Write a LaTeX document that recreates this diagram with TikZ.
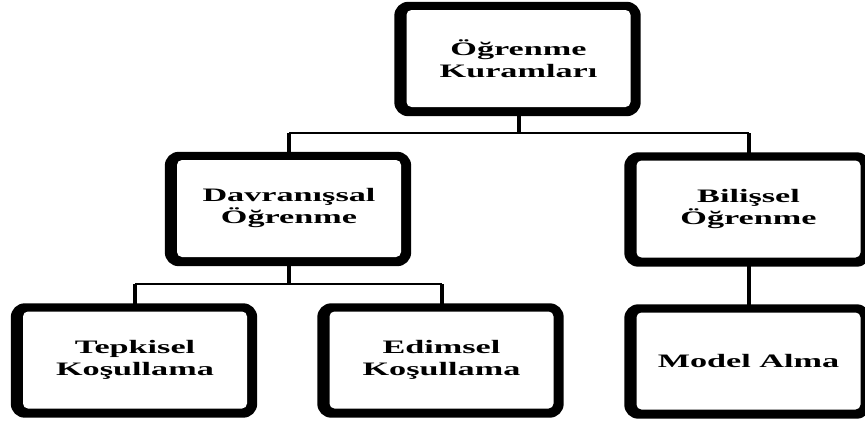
\documentclass[tikz,border=0pt]{standalone}
\usepackage{fontspec}
\newfontfamily\boxfont[FakeStretch=1.8]{Liberation Serif}
\usetikzlibrary{backgrounds}

\tikzset{
  kbox/.style={fill=white, rounded corners=5pt, inner sep=0pt,
    minimum width=224pt, minimum height=97pt, align=center,
    font=\boxfont\bfseries\fontsize{19pt}{22pt}\selectfont},
  vline/.style={line width=4pt},
  hline/.style={line width=2.5pt}
}

\begin{document}
\begin{tikzpicture}[x=1pt, y=-1pt]
  \useasboundingbox (0,0) rectangle (865,423);

  % boxes (white inner faces)
  \node[kbox] (top)   at (518.5, 58.5) {Öğrenme\\Kuramları};
  \node[kbox] (davr)  at (289,  208.5) {Davranışsal\\Öğrenme};
  \node[kbox] (bil)   at (748.5, 209)  {Bilişsel\\Öğrenme};
  \node[kbox] (tep)   at (135,  360)   {Tepkisel\\Koşullama};
  \node[kbox] (edim)  at (441.5, 360)  {Edimsel\\Koşullama};
  \node[kbox] (model) at (748.5, 361)  {Model Alma};

  \coordinate (j1) at (518.5, 133);
  \coordinate (j2) at (289, 284);

  \begin{scope}[on background layer]
    % thick black frames behind each box
    \foreach \n in {top,davr,bil,tep,edim,model}
      \fill[rounded corners=14pt]
        ([xshift=-12pt,yshift=-9pt]\n.south west) rectangle
        ([xshift=10pt,yshift=8pt]\n.north east);

    % upper level
    \draw[vline] (top.south) -- (j1);
    \draw[hline] (davr.north |- j1) -- (bil.north |- j1);
    \draw[vline] (davr.north |- j1) -- (davr.north);
    \draw[vline] (bil.north |- j1) -- (bil.north);

    % lower level
    \draw[vline] (davr.south) -- (j2);
    \draw[hline] (tep.north |- j2) -- (edim.north |- j2);
    \draw[vline] (tep.north |- j2) -- (tep.north);
    \draw[vline] (edim.north |- j2) -- (edim.north);
    \draw[vline] (bil.south) -- (model.north);
  \end{scope}
\end{tikzpicture}
\end{document}
